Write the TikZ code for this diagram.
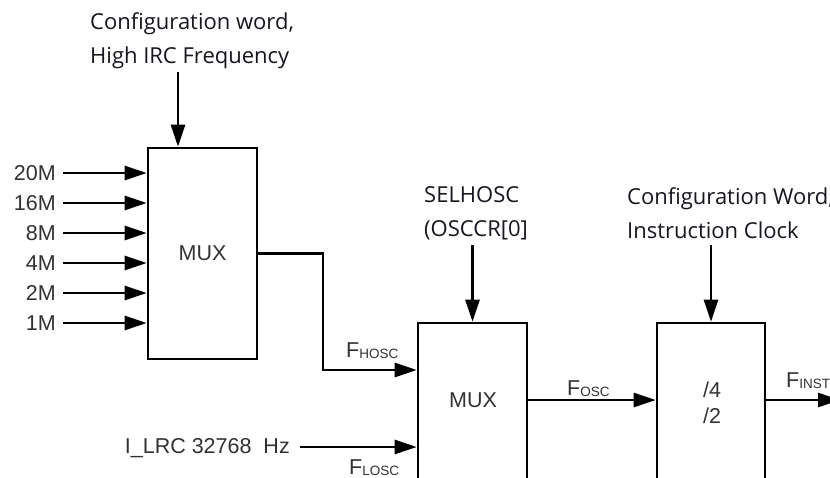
\documentclass[tikz,border=0pt]{standalone}
\usepackage{fontspec}
\setmainfont{Open Sans}
\newfontfamily\arialf{Liberation Sans}
\usetikzlibrary{arrows.meta}
\definecolor{ctext}{RGB}{22,22,30}
\definecolor{stext}{RGB}{50,50,50}
\newcommand{\sigsub}[2]{#1\raisebox{-1.5pt}{\fontsize{13.5}{15}\selectfont #2}}
\begin{document}
\begin{tikzpicture}[x=1pt,y=-1pt,
  wire/.style={line width=2.6pt, draw=black},
  arr/.style={wire, -{Triangle[length=22pt,width=14pt]}},
  blk/.style={draw=black, line width=2.6pt, inner sep=0pt, font=\arialf\fontsize{21.5}{24}\selectfont, text=stext},
  ctl/.style={font=\fontsize{22}{34}\selectfont, text=ctext, align=left, inner sep=0pt, anchor=north west},
  sig/.style={font=\arialf\fontsize{21.5}{24}\selectfont, text=stext, inner sep=0pt},
]
\useasboundingbox (0,0) rectangle (830,477);
\clip (0,0) rectangle (830,477);

% blocks
\node[blk, minimum width=109pt, minimum height=211pt] (box1) at (202.5,253.5) {MUX};
\node[blk, minimum width=109pt, minimum height=220pt] (box2) at (472.5,433) {};
\node[blk, minimum width=108pt, minimum height=220pt] (box3) at (711,433) {};
\node[sig] (mux2) at (473,400) {MUX};
\node[sig, align=center, font=\arialf\fontsize{21.5}{26}\selectfont] (div) at (712,403) {/4\\/2};

% control labels
\node[ctl] (cfg1) at (90,12) {Configuration word,\\High IRC Frequency};
\node[ctl] (sel) at (424,186) {SELHOSC\\(OSCCR[0]};
\node[ctl] (cfg2) at (627,187) {Configuration Word,\\Instruction Clock};

\coordinate (a1) at (178,72);
\coordinate (a2) at (472.5,245);
\coordinate (a3) at (711,245);
\draw[arr] (a1) -- (a1 |- box1.north);
\draw[arr] (a2) -- (box2.north);
\draw[arr] (a3) -- (box3.north);

% frequency inputs
\foreach \lab/\y/\nm in {20M/173/i1,16M/203/i2,8M/233/i3,4M/263/i4,2M/293/i5,1M/323/i6}{
  \node[sig, anchor=east] (\nm) at (56,\y) {\lab};
  \draw[arr] ([xshift=7pt]\nm.east) -- (\nm -| box1.west);
}

% box1 to box2
\coordinate (k1) at (323,370);
\draw[arr] (box1.east) -| (k1) -- (k1 -| box2.west);
\node[sig, anchor=base west] (fh) at (346,357) {\sigsub{F}{HOSC}};

% LRC input
\node[sig, anchor=base east] (lrc) at (290,453) {I\_LRC 32768\ \ Hz};
\coordinate (l1) at (300,447);
\draw[arr] (l1) -- (l1 -| box2.west);
\node[sig, anchor=base west] (fl) at (349,474) {\sigsub{F}{LOSC}};

% box2 to box3
\draw[arr] (box2.east |- mux2) -- (box3.west |- mux2);
\node[sig, anchor=base west] (fo) at (567,395) {\sigsub{F}{OSC}};

% output
\coordinate (out) at (840,400);
\draw[arr] (box3.east |- out) -- (out);
\node[sig, anchor=base west] (fi) at (786,387) {\sigsub{F}{INST}};
\end{tikzpicture}
\end{document}
